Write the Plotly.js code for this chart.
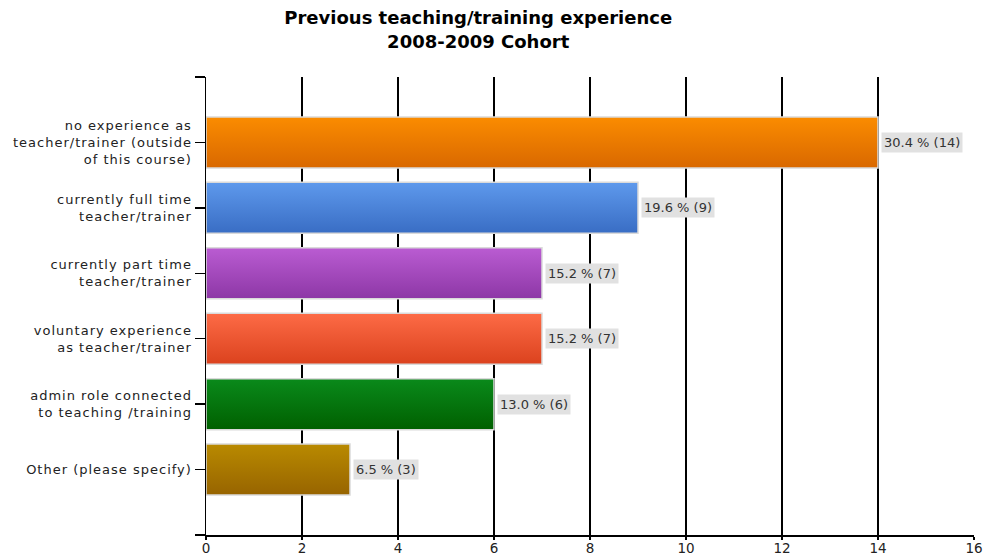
<!DOCTYPE html>
<html>
<head>
<meta charset="utf-8">
<script src="https://cdn.plot.ly/plotly-3.0.1.min.js"></script>
<style>
html,body{margin:0;padding:0;background:#fff;}
#chart{width:986px;height:555px;}
#chart .ytick text{letter-spacing:1px;}
</style>
</head>
<body>
<div id="chart"></div>
<script>
const categories = [
  "no experience as<br>teacher/trainer (outside<br>of this course)",
  "currently full time<br>teacher/trainer",
  "currently part time<br>teacher/trainer",
  "voluntary experience<br>as teacher/trainer",
  "admin role connected<br>to teaching /training",
  "Other (please specify)"
];
const counts = [14, 9, 7, 7, 6, 3];
const percents = ["30.4", "19.6", "15.2", "15.2", "13.0", "6.5"];
const xTicks = [0, 2, 4, 6, 8, 10, 12, 14, 16];

const barColors = ["#eb7b00", "#4c83d8", "#a34abd", "#ed5732", "#03750d", "#a97700"];
const topColors = ["#fb8c00", "#5e99ec", "#ba5cd2", "#fd6b46", "#0a8a1b", "#b98a00"];
const bottomColors = ["#d96800", "#396dc4", "#8d37a6", "#db421e", "#006000", "#976400"];

const FONT = "DejaVu Sans, Verdana, sans-serif";
const positions = categories.map((c, i) => i);

const trace = {
  type: "bar",
  orientation: "h",
  x: counts,
  y: positions,
  width: 0.78,
  marker: {color: barColors, line: {color: "#dadada", width: 1.5}},
  hoverinfo: "skip"
};

const annotations = counts.map((v, i) => ({
  x: v, y: i, xref: "x", yref: "y",
  text: percents[i] + " % (" + v + ")",
  showarrow: false, xanchor: "left", yanchor: "middle",
  xshift: 3,
  bgcolor: "#e1e1e1", borderpad: 2,
  font: {family: FONT, size: 13, color: "#333"}
}));

const layout = {
  width: 986, height: 555,
  margin: {l: 206, r: 12, t: 77, b: 20, pad: 0},
  paper_bgcolor: "#fff", plot_bgcolor: "#fff",
  showlegend: false,
  title: {
    text: "<b>Previous teaching/training experience<br>2008-2009 Cohort</b>",
    font: {family: FONT, size: 18, color: "#000"},
    x: 0.485, xref: "container", xanchor: "center",
    y: 0.956, yref: "container", yanchor: "top"
  },
  xaxis: {
    range: [0, 16], tickvals: xTicks, ticktext: xTicks.map(String),
    showgrid: true, gridcolor: "#000", gridwidth: 1.5,
    zeroline: false, showline: true, linecolor: "#000", linewidth: 1.5,
    ticks: "outside", ticklen: 3, tickcolor: "#000", tickwidth: 1.5,
    ticklabelstandoff: -3,
    tickfont: {family: FONT, size: 13.5, color: "#222"},
    fixedrange: true
  },
  yaxis: {
    range: [6, -1],
    tickvals: [-1].concat(positions, [6]),
    ticktext: [""].concat(categories, [""]),
    showgrid: false, zeroline: false,
    showline: true, linecolor: "#000", linewidth: 1.5,
    ticks: "outside", ticklen: 10, tickcolor: "#000", tickwidth: 1.5,
    tickfont: {family: FONT, size: 13, color: "#222"},
    fixedrange: true
  },
  annotations: annotations
};

Plotly.newPlot("chart", [trace], layout, {staticPlot: true, displayModeBar: false}).then(function (gd) {
  const svg = gd.querySelector("svg.main-svg");
  const ns = "http://www.w3.org/2000/svg";
  let defs = svg.querySelector("defs");
  if (!defs) { defs = document.createElementNS(ns, "defs"); svg.insertBefore(defs, svg.firstChild); }
  topColors.forEach(function (c, i) {
    const g = document.createElementNS(ns, "linearGradient");
    g.setAttribute("id", "barGrad" + i);
    g.setAttribute("x1", "0"); g.setAttribute("y1", "0");
    g.setAttribute("x2", "0"); g.setAttribute("y2", "1");
    const s1 = document.createElementNS(ns, "stop");
    s1.setAttribute("offset", "0"); s1.setAttribute("stop-color", c);
    const s2 = document.createElementNS(ns, "stop");
    s2.setAttribute("offset", "1"); s2.setAttribute("stop-color", bottomColors[i]);
    g.appendChild(s1); g.appendChild(s2);
    defs.appendChild(g);
  });
  gd.querySelectorAll(".barlayer .point path").forEach(function (p, i) {
    p.style.fill = "url(#barGrad" + i + ")";
  });
});
</script>
</body>
</html>
